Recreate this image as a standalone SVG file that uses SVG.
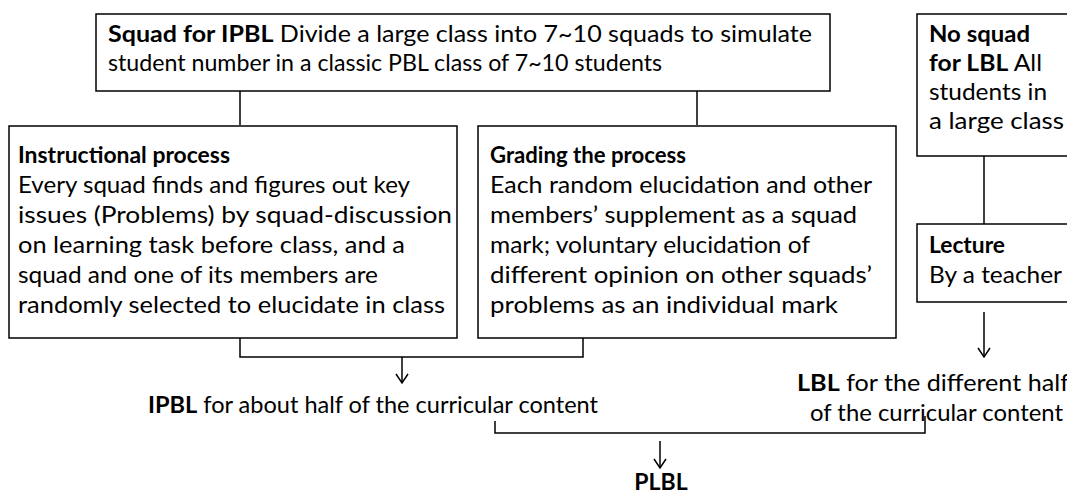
<svg xmlns="http://www.w3.org/2000/svg" width="1067" height="495" viewBox="0 0 1067 495">
<style>
text{font-family:Lato,"Liberation Sans",sans-serif;font-size:23px;fill:#000}
.b{font-weight:bold}
.box{fill:#fff;stroke:#000;stroke-width:1.5}
.ln{fill:none;stroke:#000;stroke-width:1.5}
</style>
<defs>
<marker id="ah" markerWidth="14" markerHeight="14" refX="12" refY="7" orient="auto" markerUnits="userSpaceOnUse" viewBox="0 0 14 14">
<polyline points="3,1 12,7 3,13" fill="none" stroke="#000" stroke-width="1.5"/>
</marker>
</defs>
<rect width="1067" height="495" fill="#fff"/>
<g id="connectors">
<path class="ln" d="M240,91V125M697,91V125"/>
<path class="ln" d="M984,156V224"/>
<path class="ln" d="M240,338V357H583V338"/>
<path class="ln" d="M402,357V383" marker-end="url(#ah)"/>
<path class="ln" d="M984,312V357" marker-end="url(#ah)"/>
<path class="ln" d="M495,421V433H925V416"/>
<path class="ln" d="M660,441V468" marker-end="url(#ah)"/>
</g>
<g id="squad-ipbl">
<rect class="box" x="96" y="14" width="734" height="77"/>
<text x="108" y="42" textLength="704" lengthAdjust="spacingAndGlyphs"><tspan class="b">Squad for IPBL</tspan>  Divide a large class into 7~10 squads to simulate</text>
<text x="108" y="71" textLength="554" lengthAdjust="spacingAndGlyphs">student number in a classic PBL class of 7~10 students</text>
</g>
<g id="instructional">
<rect class="box" x="9" y="126" width="448" height="212"/>
<text class="b" x="18" y="163" textLength="212" lengthAdjust="spacingAndGlyphs">Instructional process</text>
<text x="18" y="193" textLength="392" lengthAdjust="spacingAndGlyphs">Every squad finds and figures out key</text>
<text x="18" y="223" textLength="434" lengthAdjust="spacingAndGlyphs">issues (Problems) by squad-discussion</text>
<text x="18" y="253" textLength="387" lengthAdjust="spacingAndGlyphs">on learning task before class, and a</text>
<text x="18" y="283" textLength="360" lengthAdjust="spacingAndGlyphs">squad and one of its members are</text>
<text x="18" y="313" textLength="427" lengthAdjust="spacingAndGlyphs">randomly selected to elucidate in class</text>
</g>
<g id="grading">
<rect class="box" x="478" y="126" width="418" height="212"/>
<text class="b" x="490" y="163" textLength="196" lengthAdjust="spacingAndGlyphs">Grading the process</text>
<text x="490" y="193" textLength="382" lengthAdjust="spacingAndGlyphs">Each random elucidation and other</text>
<text x="490" y="223" textLength="367" lengthAdjust="spacingAndGlyphs">members’ supplement  as a squad</text>
<text x="490" y="253" textLength="320" lengthAdjust="spacingAndGlyphs">mark; voluntary elucidation of</text>
<text x="490" y="283" textLength="382" lengthAdjust="spacingAndGlyphs">different opinion on other squads’</text>
<text x="490" y="313" textLength="348" lengthAdjust="spacingAndGlyphs">problems as an individual mark</text>
</g>
<g id="no-squad-lbl">
<rect class="box" x="917" y="14" width="160" height="142"/>
<text class="b" x="929" y="42" textLength="101" lengthAdjust="spacingAndGlyphs">No squad</text>
<text x="929" y="71" textLength="113" lengthAdjust="spacingAndGlyphs"><tspan class="b">for LBL</tspan>  All</text>
<text x="929" y="100" textLength="118" lengthAdjust="spacingAndGlyphs">students in</text>
<text x="929" y="129" textLength="135" lengthAdjust="spacingAndGlyphs">a large class</text>
</g>
<g id="lecture">
<rect class="box" x="917" y="224" width="160" height="78"/>
<text class="b" x="929" y="253" textLength="76" lengthAdjust="spacingAndGlyphs">Lecture</text>
<text x="929" y="283" textLength="133" lengthAdjust="spacingAndGlyphs">By a teacher</text>
</g>
<g id="ipbl-result">
<text x="148" y="413" textLength="450" lengthAdjust="spacingAndGlyphs"><tspan class="b">IPBL</tspan> for about half of the curricular content</text>
</g>
<g id="lbl-result">
<text x="797" y="391" textLength="272" lengthAdjust="spacingAndGlyphs"><tspan class="b">LBL</tspan> for the different half</text>
<text x="810" y="421" textLength="253" lengthAdjust="spacingAndGlyphs">of the curricular content</text>
</g>
<g id="plbl">
<text class="b" x="661" y="490" text-anchor="middle">PLBL</text>
</g>
</svg>
